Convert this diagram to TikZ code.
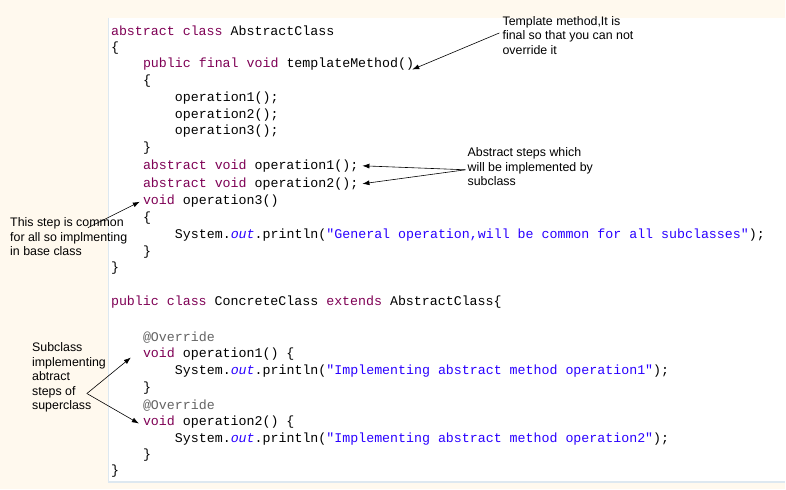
\documentclass[tikz,border=0pt]{standalone}
\usepackage{fontspec}
\setmainfont{Liberation Sans}
\setmonofont{Liberation Mono}
\usetikzlibrary{arrows.meta}
\definecolor{bgcream}{HTML}{FFF9EE}
\definecolor{kwcol}{HTML}{7F0055}
\definecolor{strcol}{HTML}{2A00FF}
\definecolor{anncol}{HTML}{646464}
\definecolor{edgecol}{HTML}{DDE8F0}
\newcommand{\kw}[1]{\textcolor{kwcol}{#1}}
\newcommand{\str}[1]{\textcolor{strcol}{#1}}
\newcommand{\outf}{\textcolor{strcol}{\itshape out}}
\tikzset{
  code/.style={anchor=west,inner sep=0,font=\fontsize{13.3}{14}\ttfamily},
  note/.style={anchor=north west,inner sep=0,align=left,font=\fontsize{12.4}{14.5}\selectfont},
  pointer/.style={-{Latex[length=7pt,width=5pt]},line width=0.6pt}
}
\begin{document}
\begin{tikzpicture}[x=1pt,y=-1pt]

\fill[bgcream] (0,0) rectangle (786,490);
\fill[white] (108,18) rectangle (786,482);
\draw[edgecol,line width=2pt] (108,483) -- (786,483);
\draw[edgecol,line width=0.6pt] (108,18) -- (108,482);

% abstract class
\node[code] (l1) at (111,31) {\kw{abstract} \kw{class} AbstractClass};
\node[code] (l2) at (111,48) {\{};
\node[code] (l3) at (143,64) {\kw{public} \kw{final} \kw{void} templateMethod()};
\node[code] (l4) at (143,81) {\{};
\node[code] (l5) at (175,98) {operation1();};
\node[code] (l6) at (175,115) {operation2();};
\node[code] (l7) at (175,131) {operation3();};
\node[code] (l8) at (143,148) {\}};
\node[code] (l9) at (143,166) {\kw{abstract} \kw{void} operation1();};
\node[code] (l10) at (143,184) {\kw{abstract} \kw{void} operation2();};
\node[code] (l11) at (143,201) {\kw{void} operation3()};
\node[code] (l12) at (143,218) {\{};
\node[code] (l13) at (175,235) {System.\outf.println(\str{"General operation,will be common for all subclasses"});};
\node[code] (l14) at (143,252) {\}};
\node[code] (l15) at (111,268) {\}};

% concrete class
\node[code] (m1) at (111,302) {\kw{public} \kw{class} ConcreteClass \kw{extends} AbstractClass\{};
\node[code] (m2) at (143,338) {\textcolor{anncol}{@Override}};
\node[code] (m3) at (143,355) {\kw{void} operation1() \{};
\node[code] (m4) at (175,372) {System.\outf.println(\str{"Implementing abstract method operation1"});};
\node[code] (m5) at (143,389) {\}};
\node[code] (m6) at (143,406) {\textcolor{anncol}{@Override}};
\node[code] (m7) at (143,423) {\kw{void} operation2() \{};
\node[code] (m8) at (175,440) {System.\outf.println(\str{"Implementing abstract method operation2"});};
\node[code] (m9) at (143,456) {\}};
\node[code] (m10) at (111,472) {\}};

% notes
\node[note] (tmpl) at (503,16) {Template method,It is\\final so that you can not\\override it};
\node[note] (steps) at (468,148) {Abstract steps which\\will be implemented by\\subclass};
\node[note] (common) at (10,218) {This step is common\\for all so implmenting\\in base class};
\node[note] (sub) at (32,343) {Subclass\\implementing\\abtract\\steps of\\superclass};

\coordinate (tmplfoot) at (500,33);
\coordinate (stepsfoot) at (466,170);
\coordinate (commonfoot) at (88,228);
\coordinate (subfoot) at (87,394);

\draw[pointer] (tmplfoot) -- ([xshift=-2pt,yshift=-12pt]l3.north east);
\draw[pointer] (stepsfoot) -- ([xshift=4pt]l9.east);
\draw[pointer] (stepsfoot) -- ([xshift=4pt]l10.east);
\draw[pointer] (commonfoot) -- ([xshift=-3pt,yshift=-1pt]l11.west);
\draw[pointer] (subfoot) -- ([xshift=-12pt,yshift=-3pt]m3.west);
\draw[pointer] (subfoot) -- ([xshift=-4pt,yshift=-1pt]m7.west);

\end{tikzpicture}
\end{document}
